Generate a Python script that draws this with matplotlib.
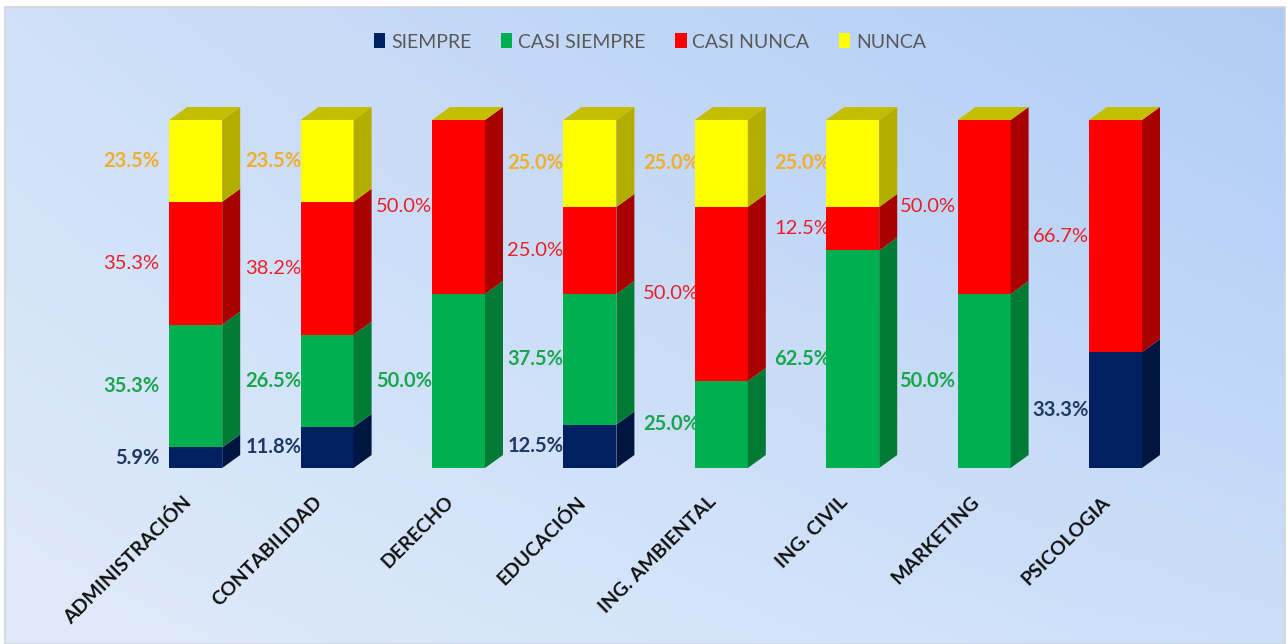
import numpy as np
import matplotlib.pyplot as plt
import matplotlib.transforms as mtransforms
from matplotlib.patches import Polygon, Patch, Rectangle

# ---- data ----
carreras = ["ADMINISTRACIÓN", "CONTABILIDAD", "DERECHO", "EDUCACIÓN",
            "ING. AMBIENTAL", "ING. CIVIL", "MARKETING", "PSICOLOGIA"]
siempre = [5.9, 11.8, 0, 12.5, 0, 0, 0, 33.3]
casi_siempre = [35.3, 26.5, 50.0, 37.5, 25.0, 62.5, 50.0, 0]
casi_nunca = [35.3, 38.2, 50.0, 25.0, 50.0, 12.5, 50.0, 66.7]
nunca = [23.5, 23.5, 0, 25.0, 25.0, 25.0, 0, 0]
series_names = ["SIEMPRE", "CASI SIEMPRE", "CASI NUNCA", "NUNCA"]

# ---- style ----
front = ["#002060", "#00B050", "#FF0000", "#FFFF00"]
side = ["#001540", "#007A35", "#A80000", "#B3AD00"]
top_col = "#C4BE00"
lab_col = ["#1F3864", "#1AA64E", "#E8202A", "#F2AE2C"]
lab_bold = ["bold", "bold", "normal", "bold"]
label_shift_px = [-10, 1, 0, 0, 4, 4, -2, 0]

plt.rcParams['font.family'] = ['Lato', 'DejaVu Sans']

W, H = 1287, 644
fig = plt.figure(figsize=(W / 100, H / 100), dpi=100)
fig.patch.set_facecolor("white")

# background gradient
bg = fig.add_axes([5 / W, 0, 1280 / W, 637 / H], zorder=-10)
tl, tr = np.array([207, 224, 248]), np.array([176, 204, 245])
bl, br = np.array([224, 235, 250]), np.array([204, 223, 249])
u = np.linspace(0, 1, 200)[None, :, None]
v = np.linspace(0, 1, 100)[:, None, None]
img = (tl * (1 - u) * (1 - v) + tr * u * (1 - v) + bl * (1 - u) * v + br * u * v) / 255
bg.imshow(img, aspect="auto", extent=[0, 1, 0, 1], origin="upper")
bg.set_xlim(0, 1)
bg.set_ylim(0, 1)
bg.axis("off")
fig.add_artist(Rectangle((5 / W, 0), 1280 / W, 637 / H, transform=fig.transFigure,
                         fill=False, edgecolor="#D4D4D4", linewidth=1.2))

# plot axes: category centers at 196 + 131.4*i px, y 0 at 468px, 100 at 120px
ax_l, ax_w = 130, 1051.2
ax = fig.add_axes([ax_l / W, (H - 468) / H, ax_w / W, 348 / H])
ax.set_xlim(-0.5, 7.5)
ax.set_ylim(0, 100)
ax.patch.set_alpha(0)
for s in ax.spines.values():
    s.set_visible(False)

px_x = ax_w / 8
px_y = 348 / 100
dx = 18 / px_x
dy = 13 / px_y
bw = 53 / px_x

x = np.arange(len(carreras))
data = [siempre, casi_siempre, casi_nunca, nunca]
bottom = np.zeros(len(carreras))
for k, vals in enumerate(data):
    vals = np.array(vals)
    ax.bar(x, vals, bw, bottom=bottom, color=front[k], zorder=3, linewidth=0)
    for i in range(len(x)):
        if vals[i] <= 0:
            continue
        xr = x[i] + bw / 2
        b, t = bottom[i], bottom[i] + vals[i]
        ax.add_patch(Polygon([(xr, b), (xr + dx, b + dy), (xr + dx, t + dy), (xr, t)],
                             closed=True, facecolor=side[k], edgecolor="none",
                             zorder=3, clip_on=False))
        xl = x[i] - bw / 2 + label_shift_px[i] / px_x
        ax.text(xl, b + vals[i] / 2, f"{vals[i]:.1f}%", ha="right", va="center",
                color=lab_col[k], fontsize=14.5, fontweight=lab_bold[k], zorder=2)
    bottom = bottom + vals

for i in range(len(x)):
    xl, xr, t = x[i] - bw / 2, x[i] + bw / 2, bottom[i]
    ax.add_patch(Polygon([(xl, t), (xl + dx, t + dy), (xr + dx, t + dy), (xr, t)],
                         closed=True, facecolor=top_col, edgecolor="none",
                         zorder=3, clip_on=False))

ax.set_yticks([])
ax.set_xticks(x)
ax.set_xticklabels(carreras, rotation=45, ha="right", rotation_mode="anchor",
                   fontsize=14, fontweight="bold", color="#111111")
ax.tick_params(axis="x", length=0, pad=18)
shift = mtransforms.ScaledTranslation(-14 / 100, 0, fig.dpi_scale_trans)
for lbl in ax.get_xticklabels():
    lbl.set_transform(lbl.get_transform() + shift)

handles = [Patch(facecolor=front[k], edgecolor="none") for k in range(4)]
leg = fig.legend(handles, series_names, loc="center", bbox_to_anchor=(650 / W, 1 - 42 / H),
                 ncol=4, frameon=False, fontsize=14, handlelength=0.6, handleheight=0.8,
                 handletextpad=0.3, columnspacing=1.5)
for t in leg.get_texts():
    t.set_color("#595959")

fig.savefig("out.png", dpi=100)
